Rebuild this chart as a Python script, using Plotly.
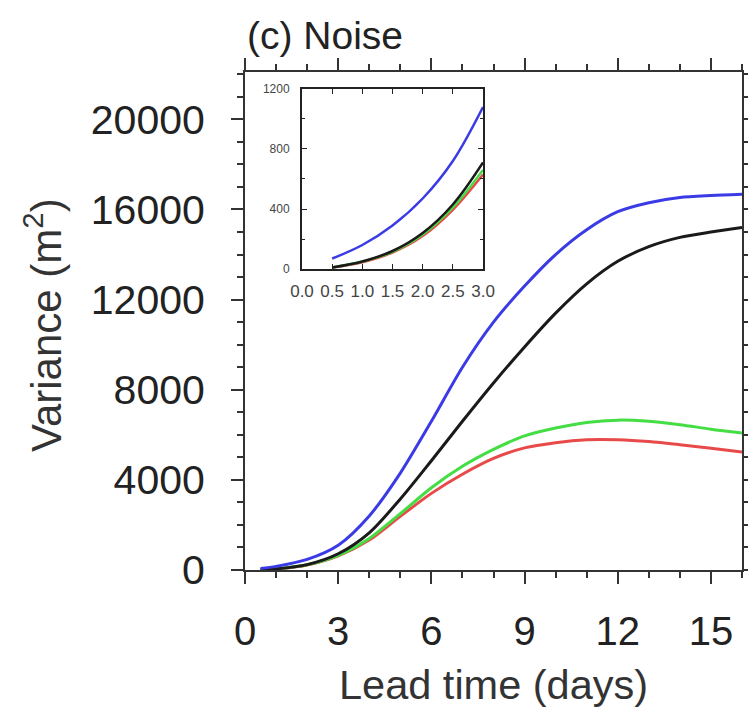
import plotly.graph_objects as go

# Main panel data (lead time in days, variance in m^2)
days = [0.5, 1, 2, 3, 4, 5, 6, 7, 8, 9, 10, 11, 12, 13, 14, 15, 16]
blue = [70, 160, 470, 1100, 2400, 4300, 6600, 9000, 11000, 12600, 14000, 15100, 15900, 16300, 16530, 16620, 16680]
black = [10, 50, 240, 720, 1650, 3150, 4850, 6600, 8300, 9900, 11400, 12700, 13700, 14350, 14760, 15000, 15200]
green = [10, 50, 230, 650, 1400, 2500, 3650, 4600, 5350, 5950, 6300, 6550, 6650, 6600, 6450, 6250, 6080]
red = [10, 45, 220, 625, 1330, 2380, 3400, 4250, 4950, 5420, 5650, 5780, 5780, 5700, 5560, 5400, 5240]

# Inset data (first 3 days)
inset_days = [0.5, 1.0, 1.5, 2.0, 2.5, 3.0]
inset_blue = [70, 160, 290, 470, 720, 1080]
inset_black = [10, 50, 120, 240, 430, 710]
inset_green = [10, 50, 115, 230, 410, 660]
inset_red = [10, 45, 110, 220, 395, 630]

main_ticks = [0, 3, 6, 9, 12, 15]
y_ticks = [0, 4000, 8000, 12000, 16000, 20000]
inset_xticks = [0.0, 0.5, 1.0, 1.5, 2.0, 2.5, 3.0]
inset_yticks = [0, 400, 800, 1200]

colors = {"blue": "#3b3be6", "black": "#1a1a1a", "green": "#44dd44", "red": "#e84a4a"}
FONT = "Liberation Sans, Arial, Helvetica, sans-serif"

fig = go.Figure()
for name, ys in [("red", red), ("green", green), ("black", black), ("blue", blue)]:
    fig.add_trace(go.Scatter(x=days, y=ys, mode="lines", line=dict(color=colors[name], width=3, shape="spline", smoothing=0.8),
                             xaxis="x", yaxis="y", showlegend=False, hoverinfo="skip"))
for name, ys in [("red", inset_red), ("green", inset_green), ("black", inset_black), ("blue", inset_blue)]:
    fig.add_trace(go.Scatter(x=inset_days, y=ys, mode="lines", line=dict(color=colors[name], width=2.5, shape="spline"),
                             xaxis="x2", yaxis="y2", showlegend=False, hoverinfo="skip"))

axis_common = dict(showgrid=False, zeroline=False, showline=True, linecolor="#333", mirror="ticks",
                   ticks="outside", tickcolor="#333", automargin=False)

fig.update_layout(
    width=748, height=707,
    margin=dict(l=245, r=6, t=72, b=137, autoexpand=False),
    paper_bgcolor="white", plot_bgcolor="white",
    font=dict(family=FONT, color="#222"),
    xaxis=dict(**axis_common, range=[0, 16], tickvals=main_ticks, ticktext=[str(v) for v in main_ticks],
               ticklen=12, tickwidth=2, linewidth=2,
               tickfont=dict(size=40), ticklabelstandoff=13,
               minor=dict(dtick=1, ticks="outside", ticklen=6, tickcolor="#333", tickwidth=1.5)),
    yaxis=dict(**axis_common, range=[0, 22100], tickvals=y_ticks, ticktext=[str(v) for v in y_ticks],
               ticklen=12, tickwidth=2, linewidth=2,
               tickfont=dict(size=41), ticklabelstandoff=18,
               minor=dict(dtick=1000, ticks="outside", ticklen=6, tickcolor="#333", tickwidth=1.5)),
    xaxis2=dict(showgrid=False, zeroline=False, showline=True, linecolor="#222", linewidth=2, mirror="ticks",
                ticks="inside", ticklen=5, tickcolor="#222", domain=[0.1147, 0.4789], anchor="y2",
                range=[0, 3], tickvals=inset_xticks, ticktext=[f"{v:.1f}" for v in inset_xticks],
                tickfont=dict(size=17, color="#444"), ticklabelstandoff=6, automargin=False),
    yaxis2=dict(showgrid=False, zeroline=False, showline=True, linecolor="#222", linewidth=2, mirror="ticks",
                ticks="inside", ticklen=5, tickcolor="#222", domain=[0.6044, 0.9659], anchor="x2",
                range=[0, 1200], tickvals=inset_yticks, ticktext=[str(v) for v in inset_yticks],
                tickfont=dict(size=12, color="#444"), ticklabelstandoff=8, automargin=False,
                minor=dict(dtick=200, ticks="inside", ticklen=3, tickcolor="#222")),
    shapes=[dict(type="rect", xref="x2 domain", yref="y2 domain", x0=0, x1=1, y0=0, y1=1,
                 fillcolor="white", line=dict(width=0), layer="below")],
)

# place annotations using pixel-based paper coords
W, H = 748, 707
L, R, T, B = 245, 6, 72, 137
pw, ph = W - L - R, H - T - B
def px(x): return (x - L) / pw
def py(y): return (H - B - y) / ph

fig.update_layout(annotations=[
    dict(text="(c) Noise", x=px(245), y=py(36), xref="paper", yref="paper", xanchor="left", yanchor="middle",
         showarrow=False, font=dict(size=39, family=FONT, color="#222")),
    dict(text="Lead time (days)", x=px(493), y=py(684), xref="paper", yref="paper", xanchor="center",
         yanchor="middle", showarrow=False, font=dict(size=41.5, family=FONT, color="#333")),
    dict(text="Variance (m<sup>2</sup>)", x=px(43), y=py(325), xref="paper", yref="paper", xanchor="center",
         yanchor="middle", textangle=-90, showarrow=False, font=dict(size=42, family=FONT, color="#333")),
])

fig.write_html("out.html")
